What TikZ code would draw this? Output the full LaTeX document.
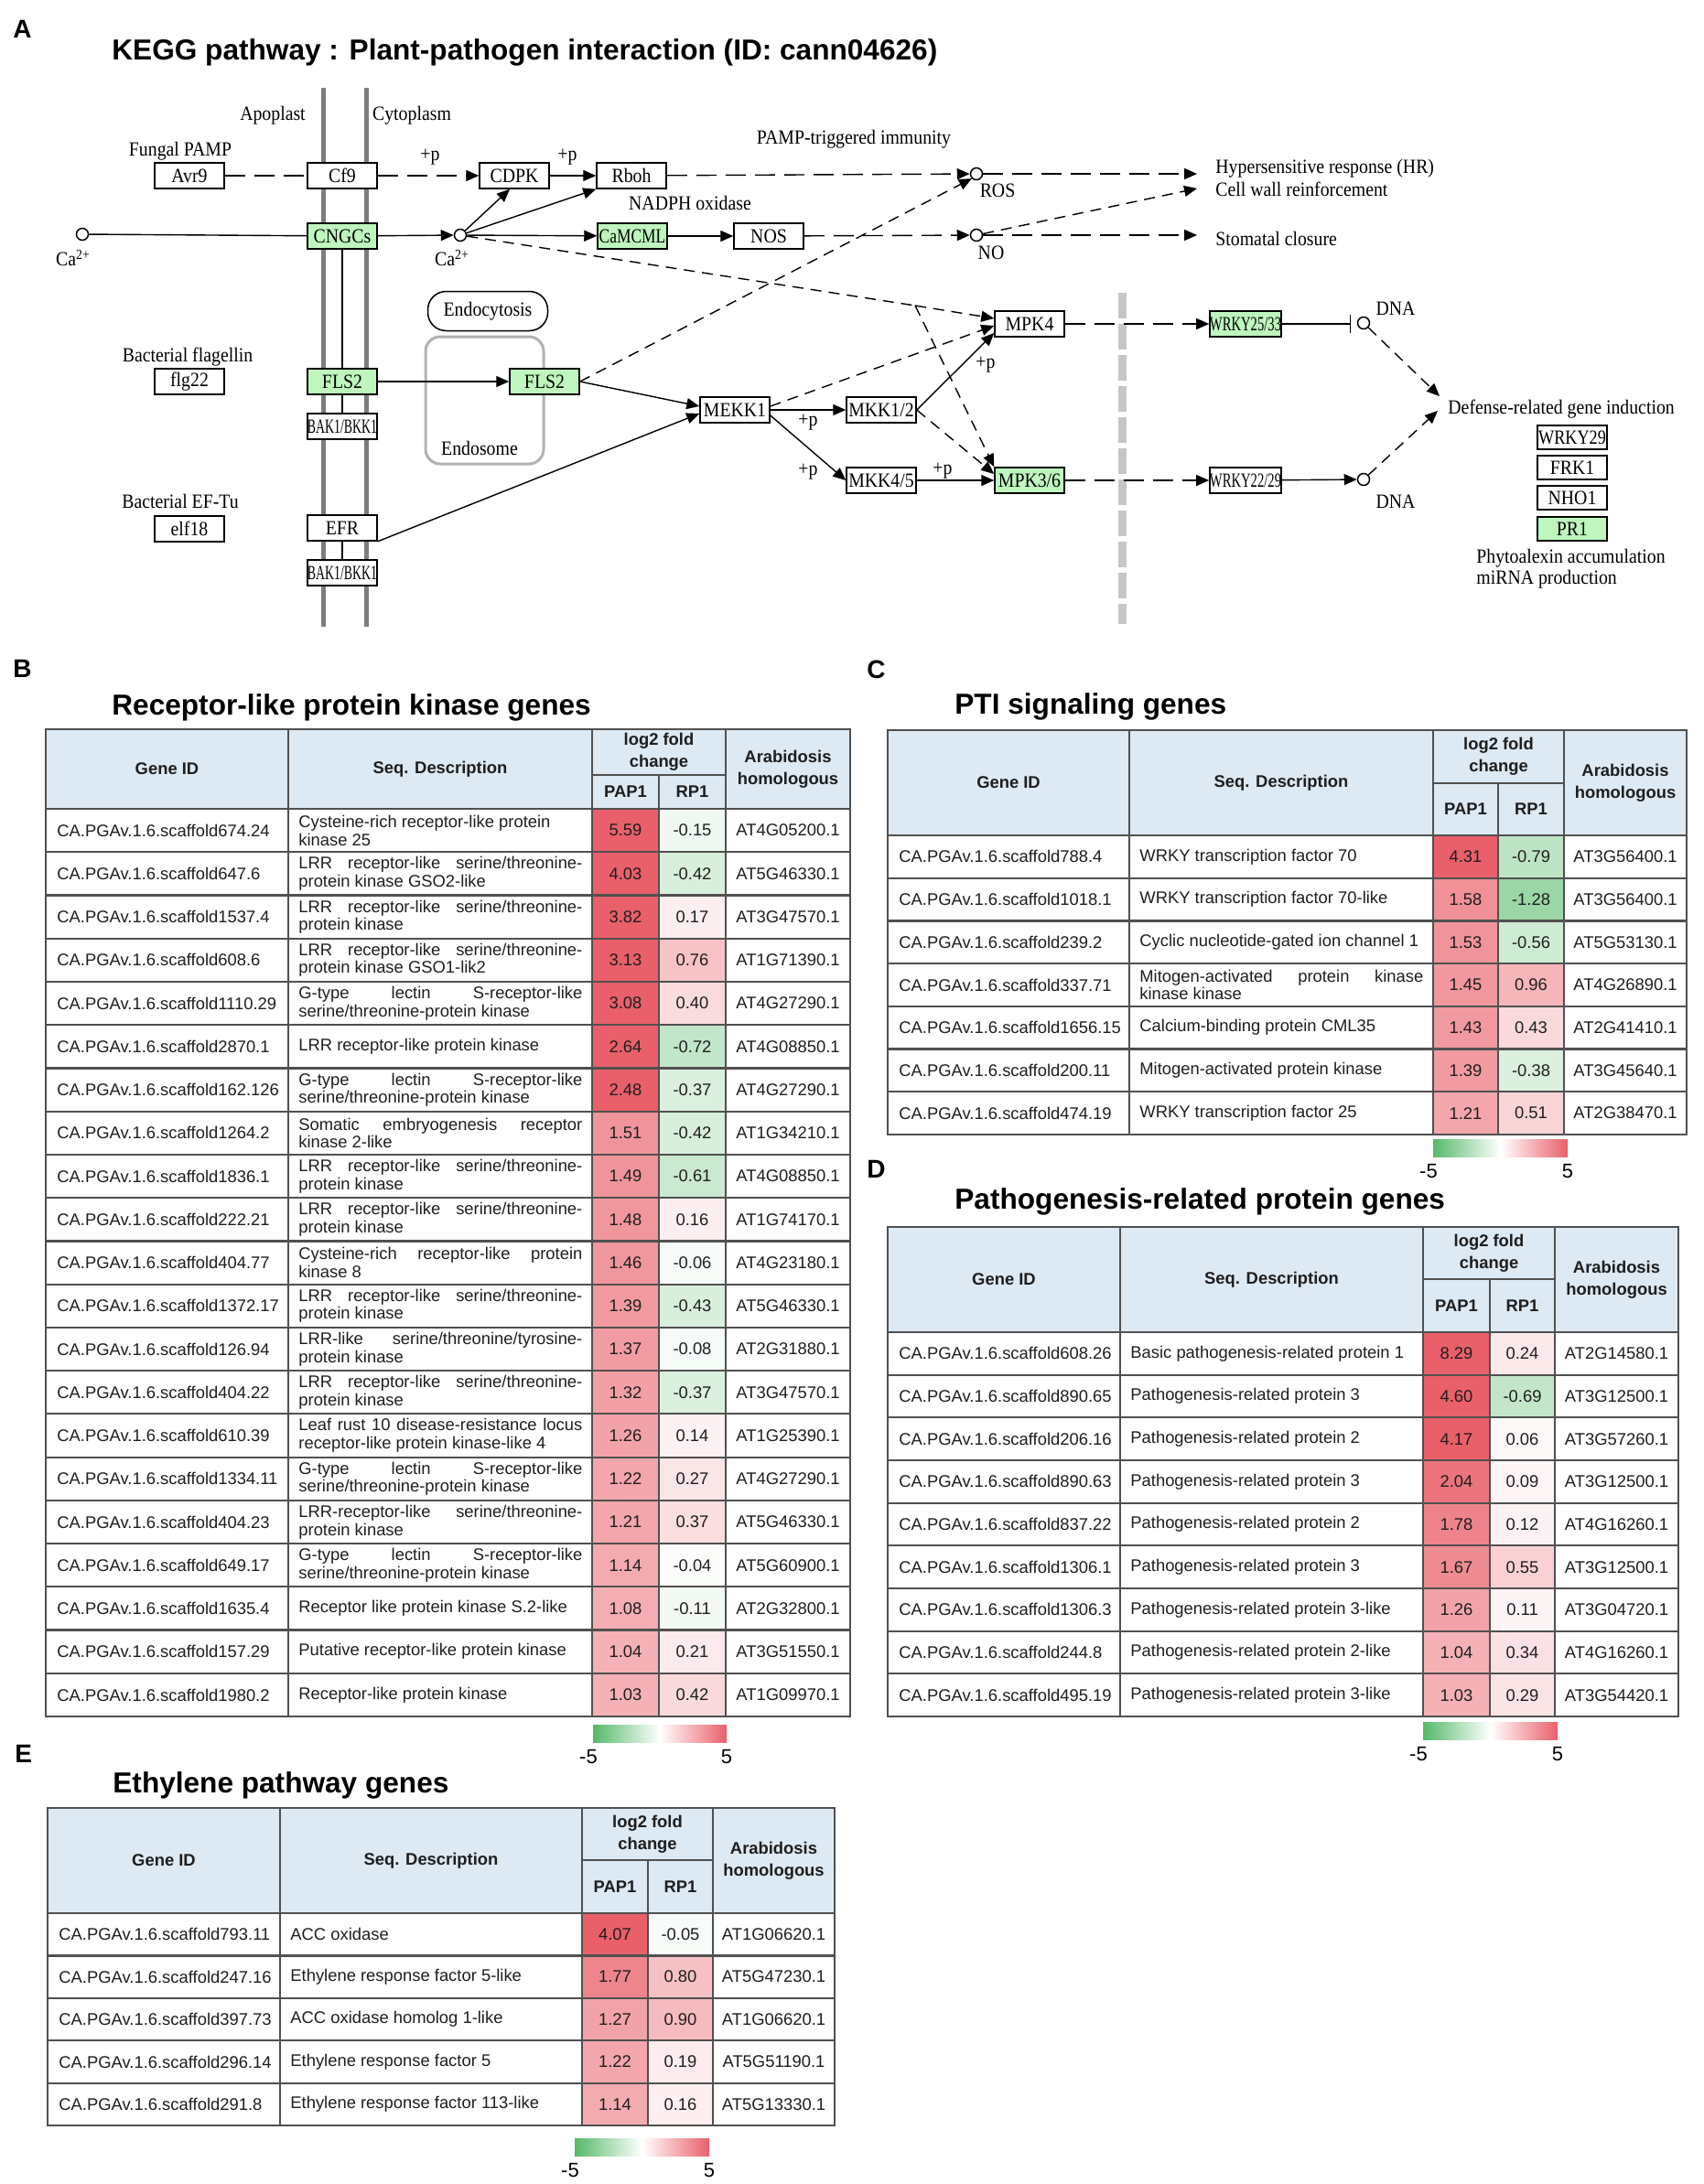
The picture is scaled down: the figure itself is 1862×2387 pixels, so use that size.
\documentclass[tikz,border=0pt]{standalone}
\usepackage{fontspec}
\setmainfont{Liberation Sans}
\newfontfamily\keggserif[FakeStretch=0.9]{Liberation Serif}
\usepackage{graphicx}
\usetikzlibrary{arrows.meta}

\definecolor{hdr}{RGB}{221,233,243}
\definecolor{tline}{RGB}{80,80,80}
\definecolor{cbr}{RGB}{233,96,106}
\definecolor{cbg}{RGB}{85,185,105}
\definecolor{kg}{RGB}{190,246,190}
\definecolor{membc}{RGB}{125,125,125}
\definecolor{txt}{RGB}{30,30,30}

\newlength\dw \setlength\dw{155pt}
\newcommand\jl[1]{\makebox[\dw][s]{#1}}
\newcommand\sq[2]{\scalebox{#1}[1]{#2}}
\newcommand\tfont{\fontsize{9.2pt}{9.8pt}\selectfont}
\newcommand\hfont{\fontsize{9.2pt}{12pt}\selectfont\bfseries}
\newcommand\kfont{\keggserif\fontsize{11pt}{12pt}\selectfont}

\tikzset{
 tcell/.style={inner sep=0pt, font=\tfont, align=left, text=txt},
 hcell/.style={inner sep=0pt, font=\hfont, align=center, text=txt},
 gridl/.style={draw=tline, line width=1.1pt},
 ttl/.style={inner sep=0pt, font=\fontsize{15.8pt}{18pt}\selectfont\bfseries},
 plet/.style={inner sep=0pt, font=\fontsize{14pt}{16pt}\selectfont\bfseries},
 kbox/.style={draw=black, line width=0.75pt, minimum width=38pt, minimum height=14pt, inner sep=0pt, font=\kfont, fill=white},
 kgbox/.style={kbox, fill=kg},
 ksbox/.style={kbox, minimum height=13pt},
 kcirc/.style={circle, draw=black, line width=0.75pt, fill=white, minimum size=6.5pt, inner sep=0pt},
 klab/.style={inner sep=0pt, font=\kfont},
 kl/.style={line width=0.7pt},
 ka/.style={-{Triangle[length=7pt,width=6pt]}},
 dashL/.style={dash pattern=on 11pt off 5pt},
 dashS/.style={dash pattern=on 6pt off 4pt},
 cbl/.style={inner sep=0pt, font=\fontsize{11pt}{12pt}\selectfont},
}

% ---------- table helpers ----------
\newcommand\cellfill[3]{%
  \pgfmathtruncatemacro\pct{min(100,round(100*(abs(#3)/2.4)^0.85))}%
  \ifdim #3pt<0pt \def\cc{cbg}\else\def\cc{cbr}\fi
  \fill[fill=\cc!\pct!white] (#1,\rt) rectangle (#2,\rb);
}
\newcommand\trow[7]{%
  \pgfmathsetmacro\rt{\Yhb+(#2-1)*\Rh}%
  \pgfmathsetmacro\rb{\rt+\Rh}%
  \pgfmathsetmacro\rc{\rt+\Rh/2}%
  \cellfill{\Xc}{\Xd}{#5}%
  \cellfill{\Xd}{\Xe}{#6}%
  \node[tcell,anchor=west] (#1#2g) at ({\Xa+12},\rc) {#3};
  \node[tcell,anchor=west] (#1#2d) at ({\Xb+11},\rc) {#4};
  \node[tcell] (#1#2p) at ({(\Xc+\Xd)/2},\rc) {#5};
  \node[tcell] (#1#2r) at ({(\Xd+\Xe)/2},\rc) {#6};
  \node[tcell] (#1#2a) at ({(\Xe+\Xf)/2},\rc) {#7};
}
\newcommand\theader[1]{%
  \fill[hdr] (\Xa,\Ytop) rectangle (\Xf,\Yhb);
  \node[hcell] (#1hg) at ({(\Xa+\Xb)/2},{(\Ytop+\Yhb)/2}) {Gene ID};
  \node[hcell] (#1hs) at ({(\Xb+\Xc)/2},{(\Ytop+\Yhb)/2}) {Seq. Description};
  \node[hcell] (#1hl) at ({(\Xc+\Xe)/2},{(\Ytop+\Ysub)/2}) {log2 fold\\change};
  \node[hcell] (#1hp) at ({(\Xc+\Xd)/2},{(\Ysub+\Yhb)/2}) {PAP1};
  \node[hcell] (#1hr) at ({(\Xd+\Xe)/2},{(\Ysub+\Yhb)/2}) {RP1};
  \node[hcell] (#1ha) at ({(\Xe+\Xf)/2},{(\Ytop+\Yhb)/2}) {Arabidosis\\homologous};
}
\newcommand\tgrid{%
  \pgfmathsetmacro\Ybot{\Yhb+\Nr*\Rh}%
  \pgfmathtruncatemacro\Nm{\Nr-1}%
  \foreach \i in {0,...,\Nm}{\draw[gridl] (\Xa,{\Yhb+\i*\Rh}) -- (\Xf,{\Yhb+\i*\Rh});}
  \draw[gridl] (\Xb,\Ytop) -- (\Xb,\Ybot) (\Xc,\Ytop) -- (\Xc,\Ybot)
     (\Xe,\Ytop) -- (\Xe,\Ybot) (\Xd,\Ysub) -- (\Xd,\Ybot) (\Xc,\Ysub) -- (\Xe,\Ysub);
  \draw[gridl] (\Xa,\Ytop) rectangle (\Xf,\Ybot);
}
\newcommand\cbar[4]{%
  \shade[left color=cbg, right color=cbr, middle color=white] (#2,#4) rectangle (#3,{#4+19});
  \node[cbl] (#1cbl) at ({#2-5},{#4+35}) {-5};
  \node[cbl] (#1cbr) at (#3,{#4+35}) {5};
}

\begin{document}
\begin{tikzpicture}[x=0.5pt,y=-0.5pt]
\fill[white] (0,0) rectangle (1862,2387);
\useasboundingbox (0,0) rectangle (1862,2387);

% ================= A : KEGG =================
\node[plet, anchor=base west] (lA) at (14,42) {A};
\node[ttl, anchor=base west] (tA) at (122,66) {KEGG pathway : Plant-pathogen interaction (ID: cann04626)};

% membranes
\coordinate (m1t) at (353,96); \coordinate (m1b) at (353,685);
\coordinate (m2t) at (400,96); \coordinate (m2b) at (400,685);
\draw[membc, line width=2.5pt] (m1t) -- (m1b) (m2t) -- (m2b);
% gray dashed divider
\coordinate (gdt) at (1226,320); \coordinate (gdb) at (1226,682);
\draw[gray!45, line width=4.5pt, dash pattern=on 14pt off 3pt] (gdt) -- (gdb);
% endosome
\node[draw=gray!60, line width=1.5pt, rounded corners=8pt, minimum width=64.5pt, minimum height=69.5pt] (endo) at (529.5,437.5) {};
\node[klab] (endol) at (524,490) {Endosome};
\node[draw, line width=0.75pt, rounded corners=10pt, minimum width=65.5pt, minimum height=21.5pt, font=\kfont, inner sep=0pt] (endoc) at (533,340) {Endocytosis};

% labels
\node[klab] (apo) at (298,126) {Apoplast};
\node[klab] (cyto) at (450,126) {Cytoplasm};
\node[klab] (fung) at (197,165) {Fungal PAMP};
\node[klab] (bflag) at (205,390) {Bacterial flagellin};
\node[klab] (bef) at (197,548) {Bacterial EF-Tu};
\node[klab] (nadph) at (754,222) {NADPH oxidase};
\node[klab] (pti) at (933,152) {PAMP-triggered immunity};
\node[klab] (p1) at (470,172) {+p};
\node[klab] (p2) at (620,172) {+p};
\node[klab] (p3) at (883,462) {+p};
\node[klab] (p4) at (883,516) {+p};
\node[klab] (p5) at (1030,515) {+p};
\node[klab] (p6) at (1077,399) {+p};
\node[klab] (caLl) at (80,282) {Ca\textsuperscript{2+}};
\node[klab] (caMl) at (494,282) {Ca\textsuperscript{2+}};
\node[klab] (rosl) at (1090,208) {ROS};
\node[klab] (nol) at (1083,276) {NO};
\node[klab, anchor=west] (hr) at (1328,184) {Hypersensitive response (HR)};
\node[klab, anchor=west] (cw) at (1328,207) {Cell wall reinforcement};
\node[klab, anchor=west] (sc) at (1328,261) {Stomatal closure};
\node[klab] (dna1l) at (1525,337) {DNA};
\node[klab] (dna2l) at (1525,548) {DNA};
\node[klab, anchor=west] (defl) at (1582,447) {Defense-related gene induction};
\node[klab, anchor=west] (phy) at (1613,610) {Phytoalexin accumulation};
\node[klab, anchor=west] (mir) at (1613,633) {miRNA production};

% boxes
\node[kbox] (avr) at (207,192) {Avr9};
\node[kbox] (cf9) at (374,192) {Cf9};
\node[kbox] (cdpk) at (562,192) {CDPK};
\node[kbox] (rboh) at (690,192) {Rboh};
\node[kgbox] (cngc) at (374,258) {CNGCs};
\node[kgbox] (camcml) at (691,258) {\sq{0.88}{CaMCML}};
\node[kbox] (nos) at (840,258) {NOS};
\node[kbox] (flg) at (207,417) {flg22};
\node[kgbox] (flsM) at (374,417) {FLS2};
\node[kgbox] (flsE) at (595,417) {FLS2};
\node[kbox] (bak1) at (374,466) {\sq{0.7}{BAK1/BKK1}};
\node[kbox] (elf) at (207,578) {elf18};
\node[kbox] (efr) at (374,577) {EFR};
\node[kbox] (bak2) at (374,626) {\sq{0.7}{BAK1/BKK1}};
\node[kbox] (mekk) at (803,448) {MEKK1};
\node[kbox] (mkk12) at (963,448) {MKK1/2};
\node[kbox] (mkk45) at (963,525) {MKK4/5};
\node[kbox] (mpk4) at (1125,354) {MPK4};
\node[kgbox] (mpk36) at (1125,525) {MPK3/6};
\node[kgbox] (wk1) at (1361,354) {\sq{0.74}{WRKY25/33}};
\node[kbox] (wk2) at (1361,525) {\sq{0.74}{WRKY22/29}};
\node[ksbox] (wrky29) at (1718,478) {\sq{0.92}{WRKY29}};
\node[ksbox] (frk1) at (1718,511) {FRK1};
\node[ksbox] (nho1) at (1718,544) {NHO1};
\node[ksbox, fill=kg] (pr1) at (1718,578) {PR1};
% circles
\node[kcirc] (caL) at (90,256) {};
\node[kcirc] (caM) at (503,257) {};
\node[kcirc] (ros) at (1067,190) {};
\node[kcirc] (no) at (1067,257) {};
\node[kcirc] (dna1) at (1490,353) {};
\node[kcirc] (dna2) at (1490,524) {};
% coordinates
\coordinate (hrC) at (1308,190);
\coordinate (cwC) at (1308,206);
\coordinate (scC) at (1308,257);
\coordinate (br) at (1000,334);
\coordinate (di1) at (1573,433);
\coordinate (di2) at (1571,449);
\coordinate (barC) at (1476,354);

% thin inner lines
\draw[line width=0.6pt] (cngc.south) -- (flsM.north) (flsM.south) -- (bak1.north) (efr.south) -- (bak2.north);

% connectors
\draw[kl, dashL] (avr) -- (cf9);
\draw[kl, dashL, ka] (cf9) -- (cdpk);
\draw[kl, ka] (cdpk) -- (rboh);
\draw[kl, dashL, ka] (rboh) -- (ros);
\draw[kl] (caL) -- (cngc);
\draw[kl, ka] (cngc) -- (caM);
\draw[kl, ka] (caM) -- ([xshift=-2.5pt]cdpk.south);
\draw[kl, ka] (caM) -- (rboh.south west);
\draw[kl, ka] (caM) -- (camcml);
\draw[kl, ka] (camcml) -- (nos);
\draw[kl, dashL, ka] (nos) -- (no);
\draw[kl, dashL, ka] (ros) -- (hrC);
\draw[kl, dashS, ka] (no) -- (cwC);
\draw[kl, dashL, ka] (no) -- (scC);
\draw[kl, dashS] (caM) -- (br);
\draw[kl, dashS, ka] (br) -- ([yshift=3pt]mpk4.west);
\draw[kl, dashS, ka] (br) -- (mpk36.north west);
\draw[kl, dashS, ka] (flsE.east) -- (ros.south west);
\draw[kl, ka] (flsM) -- (flsE);
\draw[kl, ka] (flsE.east) -- ([yshift=2pt]mekk.west);
\draw[kl, ka] (efr.south east) -- ([yshift=-2pt]mekk.west);
\draw[kl, ka] (mekk) -- (mkk12);
\draw[kl, ka] ([yshift=-3pt]mekk.east) -- (mkk45.west);
\draw[kl, dashS, ka] ([yshift=2pt]mekk.east) -- ([yshift=-1pt]mpk4.west);
\draw[kl, ka] (mkk12.east) -- ([yshift=-5pt]mpk4.west);
\draw[kl, dashS, ka] (mkk12.east) -- ([yshift=3.5pt]mpk36.west);
\draw[kl, ka] (mkk45) -- (mpk36);
\draw[kl, dashL, ka] (mpk4) -- (wk1);
\draw[kl, dashL, ka] (mpk36) -- (wk2);
\draw[kl, -{Bar[width=10pt]}] (wk1) -- (barC);
\draw[kl, ka] (wk2) -- (dna2);
\draw[kl, dashS, ka] (dna1) -- (di1);
\draw[kl, dashS, ka] (dna2) -- (di2);

% ================= B =================
\node[plet, anchor=base west] (lB) at (14,740) {B};
\node[ttl, anchor=base west] (tB) at (122,781) {Receptor-like protein kinase genes};
\def\Xa{50}\def\Xb{315}\def\Xc{647}\def\Xd{720}\def\Xe{793}\def\Xf{929}
\def\Ytop{797}\def\Ysub{847}\def\Yhb{884}\def\Rh{47.24}\def\Nr{21}
\theader{B}
\trow{B}{1}{CA.PGAv.1.6.scaffold674.24}{Cysteine-rich receptor-like protein\\kinase 25}{5.59}{-0.15}{AT4G05200.1}
\trow{B}{2}{CA.PGAv.1.6.scaffold647.6}{\jl{LRR receptor-like serine/threonine-}\\protein kinase GSO2-like}{4.03}{-0.42}{AT5G46330.1}
\trow{B}{3}{CA.PGAv.1.6.scaffold1537.4}{\jl{LRR receptor-like serine/threonine-}\\protein kinase}{3.82}{0.17}{AT3G47570.1}
\trow{B}{4}{CA.PGAv.1.6.scaffold608.6}{\jl{LRR receptor-like serine/threonine-}\\protein kinase GSO1-lik2}{3.13}{0.76}{AT1G71390.1}
\trow{B}{5}{CA.PGAv.1.6.scaffold1110.29}{\jl{G-type lectin S-receptor-like}\\serine/threonine-protein kinase}{3.08}{0.40}{AT4G27290.1}
\trow{B}{6}{CA.PGAv.1.6.scaffold2870.1}{LRR receptor-like protein kinase}{2.64}{-0.72}{AT4G08850.1}
\trow{B}{7}{CA.PGAv.1.6.scaffold162.126}{\jl{G-type lectin S-receptor-like}\\serine/threonine-protein kinase}{2.48}{-0.37}{AT4G27290.1}
\trow{B}{8}{CA.PGAv.1.6.scaffold1264.2}{\jl{Somatic embryogenesis receptor}\\kinase 2-like}{1.51}{-0.42}{AT1G34210.1}
\trow{B}{9}{CA.PGAv.1.6.scaffold1836.1}{\jl{LRR receptor-like serine/threonine-}\\protein kinase}{1.49}{-0.61}{AT4G08850.1}
\trow{B}{10}{CA.PGAv.1.6.scaffold222.21}{\jl{LRR receptor-like serine/threonine-}\\protein kinase}{1.48}{0.16}{AT1G74170.1}
\trow{B}{11}{CA.PGAv.1.6.scaffold404.77}{\jl{Cysteine-rich receptor-like protein}\\kinase 8}{1.46}{-0.06}{AT4G23180.1}
\trow{B}{12}{CA.PGAv.1.6.scaffold1372.17}{\jl{LRR receptor-like serine/threonine-}\\protein kinase}{1.39}{-0.43}{AT5G46330.1}
\trow{B}{13}{CA.PGAv.1.6.scaffold126.94}{\jl{LRR-like serine/threonine/tyrosine-}\\protein kinase}{1.37}{-0.08}{AT2G31880.1}
\trow{B}{14}{CA.PGAv.1.6.scaffold404.22}{\jl{LRR receptor-like serine/threonine-}\\protein kinase}{1.32}{-0.37}{AT3G47570.1}
\trow{B}{15}{CA.PGAv.1.6.scaffold610.39}{\jl{Leaf rust 10 disease-resistance locus}\\receptor-like protein kinase-like 4}{1.26}{0.14}{AT1G25390.1}
\trow{B}{16}{CA.PGAv.1.6.scaffold1334.11}{\jl{G-type lectin S-receptor-like}\\serine/threonine-protein kinase}{1.22}{0.27}{AT4G27290.1}
\trow{B}{17}{CA.PGAv.1.6.scaffold404.23}{\jl{LRR-receptor-like serine/threonine-}\\protein kinase}{1.21}{0.37}{AT5G46330.1}
\trow{B}{18}{CA.PGAv.1.6.scaffold649.17}{\jl{G-type lectin S-receptor-like}\\serine/threonine-protein kinase}{1.14}{-0.04}{AT5G60900.1}
\trow{B}{19}{CA.PGAv.1.6.scaffold1635.4}{Receptor like protein kinase S.2-like}{1.08}{-0.11}{AT2G32800.1}
\trow{B}{20}{CA.PGAv.1.6.scaffold157.29}{Putative receptor-like protein kinase}{1.04}{0.21}{AT3G51550.1}
\trow{B}{21}{CA.PGAv.1.6.scaffold1980.2}{Receptor-like protein kinase}{1.03}{0.42}{AT1G09970.1}
\tgrid
\cbar{B}{648}{794}{1885}

% ================= C =================
\node[plet, anchor=base west] (lC) at (947,741) {C};
\node[ttl, anchor=base west] (tC) at (1043,780) {PTI signaling genes};
\def\Xa{970}\def\Xb{1234}\def\Xc{1566}\def\Xd{1637}\def\Xe{1709}\def\Xf{1843}
\def\Ytop{798}\def\Ysub{856}\def\Yhb{913}\def\Rh{46.71}\def\Nr{7}
\theader{C}
\trow{C}{1}{CA.PGAv.1.6.scaffold788.4}{WRKY transcription factor 70}{4.31}{-0.79}{AT3G56400.1}
\trow{C}{2}{CA.PGAv.1.6.scaffold1018.1}{WRKY transcription factor 70-like}{1.58}{-1.28}{AT3G56400.1}
\trow{C}{3}{CA.PGAv.1.6.scaffold239.2}{Cyclic nucleotide-gated ion channel 1}{1.53}{-0.56}{AT5G53130.1}
\trow{C}{4}{CA.PGAv.1.6.scaffold337.71}{\jl{Mitogen-activated protein kinase}\\kinase kinase}{1.45}{0.96}{AT4G26890.1}
\trow{C}{5}{CA.PGAv.1.6.scaffold1656.15}{Calcium-binding protein CML35}{1.43}{0.43}{AT2G41410.1}
\trow{C}{6}{CA.PGAv.1.6.scaffold200.11}{Mitogen-activated protein kinase}{1.39}{-0.38}{AT3G45640.1}
\trow{C}{7}{CA.PGAv.1.6.scaffold474.19}{WRKY transcription factor 25}{1.21}{0.51}{AT2G38470.1}
\tgrid
\cbar{C}{1566}{1713}{1245}

% ================= D =================
\node[plet, anchor=base west] (lD) at (947,1287) {D};
\node[ttl, anchor=base west] (tD) at (1043,1321) {Pathogenesis-related protein genes};
\def\Xa{970}\def\Xb{1224}\def\Xc{1555}\def\Xd{1628}\def\Xe{1699}\def\Xf{1834}
\def\Ytop{1341}\def\Ysub{1398}\def\Yhb{1456}\def\Rh{46.67}\def\Nr{9}
\theader{D}
\trow{D}{1}{CA.PGAv.1.6.scaffold608.26}{Basic pathogenesis-related protein 1}{8.29}{0.24}{AT2G14580.1}
\trow{D}{2}{CA.PGAv.1.6.scaffold890.65}{Pathogenesis-related protein 3}{4.60}{-0.69}{AT3G12500.1}
\trow{D}{3}{CA.PGAv.1.6.scaffold206.16}{Pathogenesis-related protein 2}{4.17}{0.06}{AT3G57260.1}
\trow{D}{4}{CA.PGAv.1.6.scaffold890.63}{Pathogenesis-related protein 3}{2.04}{0.09}{AT3G12500.1}
\trow{D}{5}{CA.PGAv.1.6.scaffold837.22}{Pathogenesis-related protein 2}{1.78}{0.12}{AT4G16260.1}
\trow{D}{6}{CA.PGAv.1.6.scaffold1306.1}{Pathogenesis-related protein 3}{1.67}{0.55}{AT3G12500.1}
\trow{D}{7}{CA.PGAv.1.6.scaffold1306.3}{Pathogenesis-related protein 3-like}{1.26}{0.11}{AT3G04720.1}
\trow{D}{8}{CA.PGAv.1.6.scaffold244.8}{Pathogenesis-related protein 2-like}{1.04}{0.34}{AT4G16260.1}
\trow{D}{9}{CA.PGAv.1.6.scaffold495.19}{Pathogenesis-related protein 3-like}{1.03}{0.29}{AT3G54420.1}
\tgrid
\cbar{D}{1555}{1702}{1882}

% ================= E =================
\node[plet, anchor=base west] (lE) at (16,1926) {E};
\node[ttl, anchor=base west] (tE) at (123,1959) {Ethylene pathway genes};
\def\Xa{52}\def\Xb{306}\def\Xc{636}\def\Xd{708}\def\Xe{779}\def\Xf{912}
\def\Ytop{1976}\def\Ysub{2033}\def\Yhb{2091}\def\Rh{46.4}\def\Nr{5}
\theader{E}
\trow{E}{1}{CA.PGAv.1.6.scaffold793.11}{ACC oxidase}{4.07}{-0.05}{AT1G06620.1}
\trow{E}{2}{CA.PGAv.1.6.scaffold247.16}{Ethylene response factor 5-like}{1.77}{0.80}{AT5G47230.1}
\trow{E}{3}{CA.PGAv.1.6.scaffold397.73}{ACC oxidase homolog 1-like}{1.27}{0.90}{AT1G06620.1}
\trow{E}{4}{CA.PGAv.1.6.scaffold296.14}{Ethylene response factor 5}{1.22}{0.19}{AT5G51190.1}
\trow{E}{5}{CA.PGAv.1.6.scaffold291.8}{Ethylene response factor 113-like}{1.14}{0.16}{AT5G13330.1}
\tgrid
\cbar{E}{628}{775}{2337}

\end{tikzpicture}
\end{document}
